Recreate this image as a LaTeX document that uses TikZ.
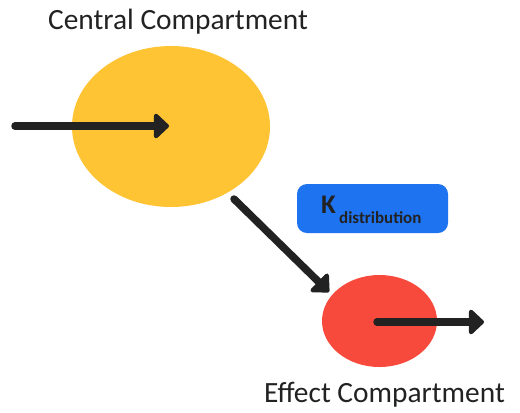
\documentclass[tikz,border=0pt]{standalone}
\usepackage{fontspec}
\setmainfont{Carlito}
\usetikzlibrary{shapes.geometric,arrows.meta}
\definecolor{cyellow}{RGB}{255,196,52}
\definecolor{cred}{RGB}{248,74,60}
\definecolor{cblue}{RGB}{30,115,240}
\definecolor{cdark}{RGB}{34,34,34}
\begin{document}
\begin{tikzpicture}[x=1bp,y=-1bp,
  comp/.style={ellipse, draw=none, inner sep=0pt},
  flow/.style={draw=cdark, line width=7.5bp, line cap=round,
    -{Triangle[length=16bp,width=29bp,round]}},
  lbl/.style={anchor=base, inner sep=0pt, text=cdark, font=\fontsize{29.5}{32}\selectfont}]
\useasboundingbox (0,0) rectangle (520,412);
\node[comp, fill=cyellow, minimum width=198bp, minimum height=161bp] (cc) at (171,126.5) {};
\node[comp, fill=cred, minimum width=115bp, minimum height=92bp] (ec) at (379.5,321) {};
\node[lbl] (cct) at (178,29) {Central Compartment};
\node[lbl] (ect) at (384.5,402) {Effect Compartment};
\node[draw=none, fill=cblue, rounded corners=10bp, minimum width=151bp, minimum height=49bp, inner sep=0pt] (kb) at (372.5,208.5) {};
\node[anchor=base west, inner sep=0pt, text=cdark, font=\bfseries\fontsize{27}{28}\selectfont] (kt) at (321,213) {K};
\node[anchor=base west, inner sep=0pt, text=cdark, font=\bfseries\fontsize{17}{18}\selectfont] (ks) at (339,223) {distribution};
\coordinate (in) at (15,126);
\coordinate (cin) at (169,126);
\coordinate (dstart) at (234,199);
\coordinate (dend) at (329,292);
\coordinate (eout) at (377,322);
\coordinate (out) at (484,322);
\draw[flow] (in) -- (cin);
\draw[flow] (dstart) -- (dend);
\draw[flow] (eout) -- (out);
\end{tikzpicture}
\end{document}
